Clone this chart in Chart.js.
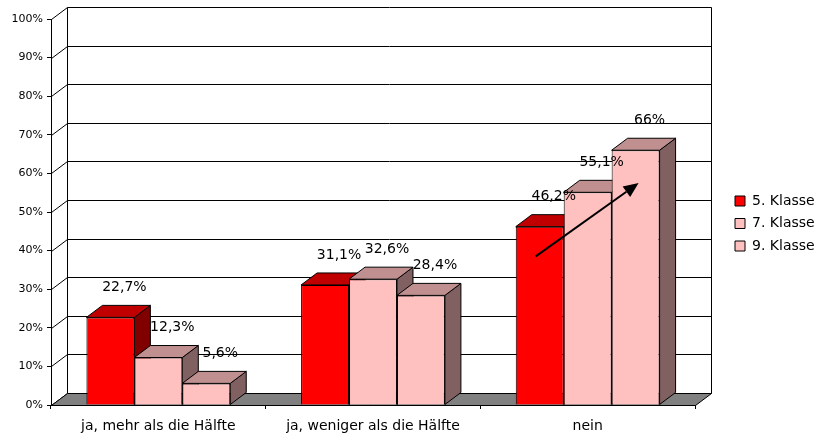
<!DOCTYPE html>
<html>
<head>
<meta charset="utf-8">
<script src="https://cdn.jsdelivr.net/npm/chart.js@4/dist/chart.umd.min.js"></script>
<style>
html,body{margin:0;padding:0;background:#fff;}
canvas{display:block;}
</style>
</head>
<body>
<canvas id="c" width="817" height="436"></canvas>
<script>
// ---- data ----
const categories = ['ja, mehr als die Hälfte', 'ja, weniger als die Hälfte', 'nein'];
const seriesNames = ['5. Klasse', '7. Klasse', '9. Klasse'];
const klasse5 = [22.7, 31.1, 46.2];
const klasse7 = [12.3, 32.6, 55.1];
const klasse9 = [5.6, 28.4, 66];
const yTicks = [0, 10, 20, 30, 40, 50, 60, 70, 80, 90, 100];
// trend arrow annotation (in data terms): from series 0 to series 2 in category 'nein'
const arrowCategory = 'nein';
const arrowFromSeries = 0, arrowFromValue = 38.5;
const arrowToSeries = 2, arrowToValue = 57.5;

// ---- style ----
const FONT = 'DejaVu Sans';
const DX = 16, DY = 12; // 3D depth
const frontColors = ['#FF0000', '#FFC0C0', '#FFC0C0'];
const topColors = ['#C00000', '#C09090', '#C09090'];
const sideColors = ['#800000', '#806060', '#806060'];

function fmt(v) {
  return Number.isInteger(v) ? v + '%' : v.toFixed(1).replace('.', ',') + '%';
}

const walls = {
  id: 'walls',
  beforeDraw(chart) {
    const ctx = chart.ctx, ca = chart.chartArea, y = chart.scales.y;
    ctx.save();
    ctx.fillStyle = '#fff';
    ctx.fillRect(0, 0, chart.width, chart.height);
    ctx.strokeStyle = '#000';
    ctx.lineWidth = 1;
    yTicks.forEach(v => {
      const py = Math.round(y.getPixelForValue(v)) + 0.5;
      ctx.beginPath();
      ctx.moveTo(ca.left + 0.5, py);
      ctx.lineTo(ca.left + DX + 0.5, py - DY);
      ctx.lineTo(ca.right + DX + 0.5, py - DY);
      ctx.stroke();
    });
    const t = Math.round(y.getPixelForValue(100)) + 0.5 - DY;
    const b = Math.round(y.getPixelForValue(0)) + 0.5 - DY;
    ctx.beginPath();
    ctx.moveTo(ca.left + DX + 0.5, t); ctx.lineTo(ca.left + DX + 0.5, b);
    ctx.moveTo(ca.right + DX + 0.5, t); ctx.lineTo(ca.right + DX + 0.5, b);
    ctx.stroke();
    const fb = Math.round(y.getPixelForValue(0)) + 0.5;
    ctx.beginPath();
    ctx.moveTo(ca.left + 0.5, fb);
    ctx.lineTo(ca.left + DX + 0.5, fb - DY);
    ctx.lineTo(ca.right + DX + 0.5, fb - DY);
    ctx.lineTo(ca.right + 0.5, fb);
    ctx.closePath();
    ctx.fillStyle = '#808080';
    ctx.fill();
    ctx.stroke();
    ctx.restore();
  },
  beforeDatasetsDraw(chart) {
    const ctx = chart.ctx;
    const bars = [];
    chart.data.datasets.forEach((ds, di) => {
      chart.getDatasetMeta(di).data.forEach(el => bars.push({el, di}));
    });
    bars.sort((a, b) => a.el.x - b.el.x);
    ctx.save();
    ctx.strokeStyle = '#000';
    ctx.lineWidth = 1;
    ctx.lineJoin = 'round';
    bars.forEach(({el, di}) => {
      const l = el.x - el.width / 2, r = el.x + el.width / 2, tp = el.y, bs = el.base;
      ctx.beginPath();
      ctx.moveTo(r, tp); ctx.lineTo(r + DX, tp - DY); ctx.lineTo(r + DX, bs - DY); ctx.lineTo(r, bs);
      ctx.closePath();
      ctx.fillStyle = sideColors[di]; ctx.fill(); ctx.stroke();
      ctx.beginPath();
      ctx.moveTo(l, tp); ctx.lineTo(l + DX, tp - DY); ctx.lineTo(r + DX, tp - DY); ctx.lineTo(r, tp);
      ctx.closePath();
      ctx.fillStyle = topColors[di]; ctx.fill(); ctx.stroke();
    });
    ctx.restore();
  },
  afterDatasetsDraw(chart) {
    const ctx = chart.ctx, y = chart.scales.y;
    ctx.save();
    ctx.font = '14px "' + FONT + '"';
    ctx.fillStyle = '#000';
    ctx.textAlign = 'center';
    ctx.textBaseline = 'middle';
    chart.data.datasets.forEach((ds, di) => {
      chart.getDatasetMeta(di).data.forEach((el, i) => {
        ctx.fillText(fmt(ds.data[i]), el.x + DX - 2, el.y - DY - 18);
      });
    });
    const ci = categories.indexOf(arrowCategory);
    const e0 = chart.getDatasetMeta(arrowFromSeries).data[ci];
    const e1 = chart.getDatasetMeta(arrowToSeries).data[ci];
    const x0 = e0.x - 4, y0 = y.getPixelForValue(arrowFromValue);
    const x1 = e1.x + 3, y1 = y.getPixelForValue(arrowToValue);
    const ang = Math.atan2(y1 - y0, x1 - x0);
    const hl = 15, hw = 6.5;
    const bx = x1 - hl * Math.cos(ang), by = y1 - hl * Math.sin(ang);
    ctx.strokeStyle = '#000';
    ctx.lineWidth = 2;
    ctx.beginPath(); ctx.moveTo(x0, y0); ctx.lineTo(bx, by); ctx.stroke();
    ctx.beginPath();
    ctx.moveTo(x1, y1);
    ctx.lineTo(bx + hw * Math.sin(ang), by - hw * Math.cos(ang));
    ctx.lineTo(bx - hw * Math.sin(ang), by + hw * Math.cos(ang));
    ctx.closePath();
    ctx.fillStyle = '#000';
    ctx.fill();
    ctx.restore();
  },
  afterLayout(chart) {
    const lg = chart.legend;
    if (!lg) return;
    const pad = lg.options.labels.padding;
    const targetItemLeft = 735;
    const sx = targetItemLeft - (lg.left + pad);
    lg.left += sx; lg.right += sx;
    const colH = lg.columnSizes && lg.columnSizes[0] ? lg.columnSizes[0].height : 0;
    const curTop = (lg.top + pad + lg.bottom - colH) / 2;
    const targetTop = 194;
    const sy = targetTop - curTop;
    lg.top += sy; lg.bottom += sy;
  }
};

const allSeries = [klasse5, klasse7, klasse9];

new Chart(document.getElementById('c'), {
  type: 'bar',
  data: {
    labels: categories,
    datasets: seriesNames.map((n, i) => ({
      label: n,
      data: allSeries[i],
      backgroundColor: frontColors[i],
      borderColor: '#000',
      borderWidth: 1,
      categoryPercentage: 0.67,
      barPercentage: 1
    }))
  },
  options: {
    responsive: false,
    animation: false,
    events: [],
    layout: { padding: { top: 19, right: 32, left: 0, bottom: 0 } },
    scales: {
      x: {
        grid: { display: true, drawOnChartArea: false, drawTicks: true, tickLength: 4, color: '#000', offset: true },
        border: { display: true, color: '#000' },
        ticks: { color: '#000', font: { family: FONT, size: 14 }, padding: 9, autoSkip: false, maxRotation: 0 },
        afterFit(s) { s.height = 31; }
      },
      y: {
        min: 0, max: 100,
        afterBuildTicks(s) { s.ticks = yTicks.map(v => ({ value: v })); },
        grid: { display: true, drawOnChartArea: false, drawTicks: true, tickLength: 4, color: '#000' },
        border: { display: true, color: '#000' },
        ticks: { color: '#000', font: { family: FONT, size: 11 }, padding: 4, callback: v => v + '%' },
        afterFit(s) { s.width = 51; }
      }
    },
    plugins: {
      legend: {
        position: 'right',
        maxWidth: 90,
        labels: {
          color: '#000',
          font: { family: FONT, size: 14 },
          boxWidth: 10,
          boxHeight: 10,
          padding: 8.5
        }
      },
      tooltip: { enabled: false }
    }
  },
  plugins: [walls]
});
</script>
</body>
</html>
